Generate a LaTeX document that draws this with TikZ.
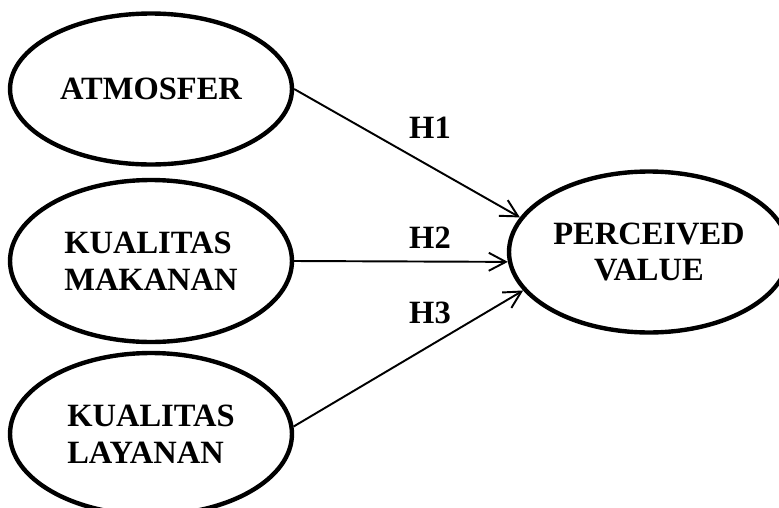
\documentclass[tikz,border=0pt]{standalone}
\usepackage{fontspec}
\setmainfont{Liberation Serif}
\usepackage{tikz}
\usetikzlibrary{arrows.meta,shapes.geometric}
\tikzset{
  latent/.style={ellipse,draw=black,line width=2.5pt,minimum width=5.64cm,minimum height=3.2cm,
    align=center,font=\fontsize{18.5}{21}\selectfont\bfseries,inner sep=0pt},
  hypo/.style={-{Straight Barb[length=3.4mm,width=3.6mm,line width=1.1pt]},line width=1.1pt,draw=black},
  hlabel/.style={font=\fontsize{18.5}{21}\selectfont\bfseries,inner sep=0pt}
}

\begin{document}
\begin{tikzpicture}[x=0.02cm,y=-0.02cm]
\useasboundingbox (0,0) rectangle (779,508);
\begin{scope}
\clip (0,0) rectangle (779,508);
\node[latent,minimum height=3.02cm] (atmosfer) at (151,89) {ATMOSFER};
\node[latent,minimum height=3.24cm,align=left] (makanan) at (151,261) {KUALITAS\\MAKANAN};
\node[latent,minimum height=3.24cm,align=left] (layanan) at (151,434) {KUALITAS\\LAYANAN};
\node[latent,minimum width=5.6cm,minimum height=3.22cm] (perceived) at (649,252) {PERCEIVED\\VALUE};
\end{scope}
\draw[hypo] (atmosfer.east) -- (perceived.165);
\draw[hypo] (makanan.east) -- (perceived.184);
\draw[hypo] (layanan.3) -- (perceived.197);
\node[hlabel] (h1) at (430,128) {H1};
\node[hlabel] (h2) at (430,238) {H2};
\node[hlabel] (h3) at (430,313) {H3};
\end{tikzpicture}
\end{document}
